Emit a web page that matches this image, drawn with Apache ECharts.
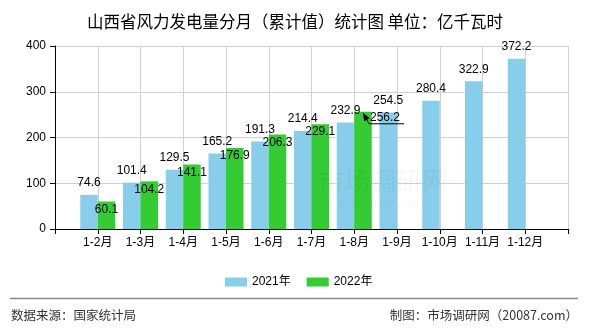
<!DOCTYPE html>
<html>
<head>
<meta charset="utf-8">
<script src="https://cdn.jsdelivr.net/npm/echarts@6/dist/echarts.min.js"></script>
<style>
html,body{margin:0;padding:0;background:#fff;}
#main{width:590px;height:330px;}
</style>
</head>
<body>
<div id="main"></div>
<script>
// ---- data ----
var categories = ['1-2月','1-3月','1-4月','1-5月','1-6月','1-7月','1-8月','1-9月','1-10月','1-11月','1-12月'];
var values2021 = [74.6, 101.4, 129.5, 165.2, 191.3, 214.4, 232.9, 254.5, 280.4, 322.9, 372.2];
var values2022 = [60.1, 104.2, 141.1, 176.9, 206.3, 229.1, 256.2];
var seriesNames = ['2021年', '2022年'];
var yTicks = [0, 100, 200, 300, 400];

var FONT = "'Liberation Sans', 'Noto Sans CJK SC', sans-serif";
var CJK = "'Noto Sans CJK SC', sans-serif";

// axis has an empty slot at each end; bars sit on the ticks in between
var axisData = [''].concat(categories).concat([' ']);
var data2021 = [null].concat(values2021);
var data2022 = [null].concat(values2022);
var movedIdx = values2022.length; // last 2022 value, label pulled aside with a leader line
var LDX = 22, LDY = -2;
var movedLine = null;

var chart = echarts.init(document.getElementById('main'), null, {renderer: 'canvas'});

var baseGraphic = [
  {type: 'line', id: 'sep', shape: {x1: 10, y1: 298.5, x2: 578, y2: 298.5},
   style: {stroke: '#888', lineWidth: 1.5}, silent: true},
  {type: 'text', id: 'src', left: 11, top: 309,
   style: {text: '数据来源：国家统计局', fill: '#333', font: '12.5px ' + CJK}},
  {type: 'text', id: 'mk', right: 12, top: 309,
   style: {text: '制图：市场调研网（20087.com）', fill: '#333', font: '12.5px ' + CJK}},
  {type: 'text', id: 'wm1', left: 318, top: 168, z: 50, silent: true,
   style: {text: '市场调研网', fill: 'rgba(0,0,0,0.035)', font: '26px ' + CJK}},
  {type: 'text', id: 'wm2', left: 338, top: 199, z: 50, silent: true,
   style: {text: 'www.20087.com', fill: 'rgba(0,0,0,0.035)', font: '11px ' + FONT}}
];

var option = {
  animation: false,
  backgroundColor: '#fff',
  title: {
    text: '山西省风力发电量分月（累计值）统计图 单位：亿千瓦时',
    left: 'center', top: 8,
    textStyle: {fontSize: 16.5, fontWeight: 'normal', color: '#000', fontFamily: CJK}
  },
  legend: {
    data: seriesNames,
    left: 220, top: 271,
    itemWidth: 22, itemHeight: 9, itemGap: 16,
    icon: 'rect',
    textStyle: {fontSize: 12, color: '#000', fontFamily: FONT}
  },
  grid: {left: 55, right: 22, top: 46, bottom: 101, containLabel: false},
  xAxis: {
    type: 'category',
    data: axisData,
    boundaryGap: false,
    axisLine: {lineStyle: {color: '#000', width: 1}},
    axisTick: {show: true, interval: 0, length: 5, lineStyle: {color: '#000'}},
    axisLabel: {interval: 0, color: '#000', fontSize: 12, fontFamily: FONT, margin: 8},
    splitLine: {show: true, interval: 0, lineStyle: {color: '#d0d0d0', width: 1}}
  },
  yAxis: {
    type: 'value',
    min: yTicks[0], max: yTicks[yTicks.length - 1], interval: 100,
    axisLine: {show: true, lineStyle: {color: '#000', width: 1}},
    axisTick: {show: true, length: 5, lineStyle: {color: '#000'}},
    axisLabel: {color: '#000', fontSize: 12, fontFamily: FONT, margin: 9},
    splitLine: {show: true, lineStyle: {color: '#d0d0d0', width: 1}}
  },
  series: [
    {
      name: seriesNames[0], type: 'bar', data: data2021,
      barWidth: 17.5, barGap: '0%',
      itemStyle: {color: '#87CEEB'},
      label: {show: true, position: 'top', distance: 6, color: '#000',
              fontSize: 12, fontFamily: FONT}
    },
    {
      name: seriesNames[1], type: 'bar', data: data2022,
      barWidth: 17.5, barGap: '0%',
      itemStyle: {color: '#33CC33'},
      label: {show: true, position: 'insideTop', distance: 2, color: '#000',
              fontSize: 12, fontFamily: FONT},
      labelLayout: function (p) {
        if (p.dataIndex !== movedIdx) return {};
        var lr = p.labelRect;
        var x0 = lr.x + LDX, yb = lr.y + LDY + lr.height;
        var tip = [p.rect.x + p.rect.width / 2, p.rect.y + 1];
        movedLine = [tip, [x0 - 1, yb], [x0 + lr.width + 4, yb]];
        return {dx: LDX, dy: LDY};
      }
    }
  ],
  graphic: baseGraphic
};

chart.setOption(option);

// leader line with an arrow head at the bar top
if (movedLine) {
  var t = movedLine[0], b = movedLine[1];
  var ang = Math.atan2(t[1] - b[1], t[0] - b[0]);
  var L = 8, W = 3.2;
  var bx = t[0] - L * Math.cos(ang), by = t[1] - L * Math.sin(ang);
  var px = -Math.sin(ang) * W, py = Math.cos(ang) * W;
  chart.setOption({
    graphic: baseGraphic.concat([
      {type: 'polyline', id: 'leader', z: 100, silent: true,
       shape: {points: movedLine},
       style: {stroke: '#000', lineWidth: 1, fill: null}},
      {type: 'polygon', id: 'arrow', z: 101, silent: true,
       shape: {points: [[t[0], t[1]], [bx + px, by + py], [bx - px, by - py]]},
       style: {fill: '#000'}}
    ])
  });
}
</script>
</body>
</html>
